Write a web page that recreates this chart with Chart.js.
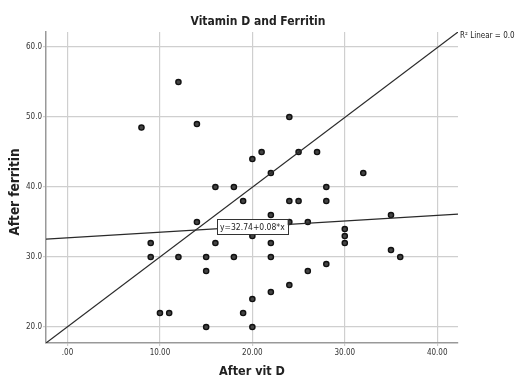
<!DOCTYPE html>
<html><head><meta charset="utf-8">
<script src="https://cdn.jsdelivr.net/npm/chart.js@4/dist/chart.umd.min.js"></script>
<style>html,body{margin:0;padding:0;background:#fff}#wrap{width:515px;height:378px}</style>
</head><body><div id="wrap"><canvas id="c" width="515" height="378"></canvas></div>
<script>
// ---- data ----
const vitD     = [8, 12, 14, 24, 20, 21, 25, 27, 22, 32,
                  16, 18, 28, 19, 24, 25, 28, 22, 35, 14, 24, 26,
                  30, 20, 30, 9, 16, 22, 30, 35,
                  9, 12, 15, 18, 22, 36, 28, 15, 26, 24, 22, 20,
                  10, 11, 19, 15, 20];
const ferritin = [48.5, 55, 49, 50, 44, 45, 45, 45, 42, 42,
                  40, 40, 40, 38, 38, 38, 38, 36, 36, 35, 35, 35,
                  34, 33, 33, 32, 32, 32, 32, 31,
                  30, 30, 30, 30, 30, 30, 29, 28, 28, 26, 25, 24,
                  22, 22, 22, 20, 20];
const xTicks = [0, 10, 20, 30, 40];
const yTicks = [20, 30, 40, 50, 60];
const xRange = [-2.33, 42.25];
const yRange = [17.72, 62.15];
const fitIntercept = 32.74, fitSlope = 0.08;
const chartTitle = 'Vitamin D and Ferritin';
const xTitle = 'After vit D';
const yTitle = 'After ferritin';
const r2Label = 'R\u00B2 Linear = 0.005';
const eqLabel = 'y=32.74+0.08*x';
const eqAnchor = {x: 20, y: 34.3};

const FONT = '"Liberation Sans Narrow","DejaVu Sans Condensed","Liberation Sans",Arial,sans-serif';
const points = vitD.map((v, i) => ({x: v, y: ferritin[i]}));
const fitLine = xRange.map(x => ({x: x, y: fitIntercept + fitSlope * x}));
const diagLine = [{x: xRange[0], y: yRange[0]}, {x: xRange[1], y: yRange[1]}];

const textPlugin = {
  id: 'texts',
  afterDatasetsDraw(chart) {
    const ctx = chart.ctx, xs = chart.scales.x, ys = chart.scales.y;
    ctx.save();
    // equation box
    ctx.font = '8.5px ' + FONT;
    const w = ctx.measureText(eqLabel).width + 6, h = 15;
    const cx = xs.getPixelForValue(eqAnchor.x), cy = ys.getPixelForValue(eqAnchor.y);
    ctx.fillStyle = '#fff';
    ctx.fillRect(cx - w / 2, cy - h / 2, w, h);
    ctx.strokeStyle = '#333'; ctx.lineWidth = 1;
    ctx.strokeRect(Math.round(cx - w / 2) + 0.5, Math.round(cy - h / 2) + 0.5, Math.round(w), h);
    ctx.fillStyle = '#222'; ctx.textAlign = 'center'; ctx.textBaseline = 'middle';
    ctx.fillText(eqLabel, cx, cy + 0.5);
    ctx.restore();
  },
  afterDraw(chart) {
    const ctx = chart.ctx;
    ctx.save();
    ctx.fillStyle = '#222';
    ctx.textAlign = 'center'; ctx.textBaseline = 'middle';
    ctx.font = 'bold 12px ' + FONT;
    ctx.fillText(chartTitle, 258, 22);
    ctx.font = 'bold 12.5px ' + FONT;
    ctx.fillText(xTitle, 252, 372);
    ctx.save();
    ctx.translate(15, 192); ctx.rotate(-Math.PI / 2);
    ctx.font = 'bold 13.5px ' + FONT;
    ctx.fillText(yTitle, 0, 0);
    ctx.restore();
    ctx.textAlign = 'left';
    ctx.font = '8px ' + FONT;
    ctx.fillText(r2Label, 460, 36);
    ctx.restore();
  }
};

new Chart(document.getElementById('c'), {
  type: 'scatter',
  data: {
    datasets: [
      {type: 'line', data: diagLine, borderColor: '#2a2a2a', borderWidth: 1.2, pointRadius: 0, fill: false, tension: 0},
      {type: 'line', data: fitLine, borderColor: '#2a2a2a', borderWidth: 1.2, pointRadius: 0, fill: false, tension: 0},
      {data: points, pointRadius: 2.6, backgroundColor: '#444', borderColor: '#111', borderWidth: 1.4, pointHoverRadius: 2.6}
    ]
  },
  options: {
    responsive: false, animation: false, devicePixelRatio: 1,
    layout: {padding: {top: 32, right: 57, bottom: 0, left: 0}},
    plugins: {legend: {display: false}, tooltip: {enabled: false}, title: {display: false}},
    scales: {
      x: {
        type: 'linear', min: xRange[0], max: xRange[1],
        afterBuildTicks: s => { s.ticks = xTicks.map(v => ({value: v})); },
        afterFit: s => { s.height = 35; },
        ticks: {font: {size: 8, family: FONT}, color: '#333', padding: 2, maxRotation: 0,
                callback: v => v === 0 ? '.00' : Number(v).toFixed(2)},
        grid: {color: '#cfcfcf', lineWidth: 1.2, tickLength: 3, drawOnChartArea: true},
        border: {color: '#999', width: 1.5}
      },
      y: {
        type: 'linear', min: yRange[0], max: yRange[1],
        afterBuildTicks: s => { s.ticks = yTicks.map(v => ({value: v})); },
        afterFit: s => { s.width = 46; },
        ticks: {font: {size: 8, family: FONT}, color: '#333', padding: 1,
                callback: v => Number(v).toFixed(1)},
        grid: {color: '#cfcfcf', lineWidth: 1.2, tickLength: 3},
        border: {color: '#999', width: 1.5}
      }
    }
  },
  plugins: [textPlugin]
});
</script></body></html>
